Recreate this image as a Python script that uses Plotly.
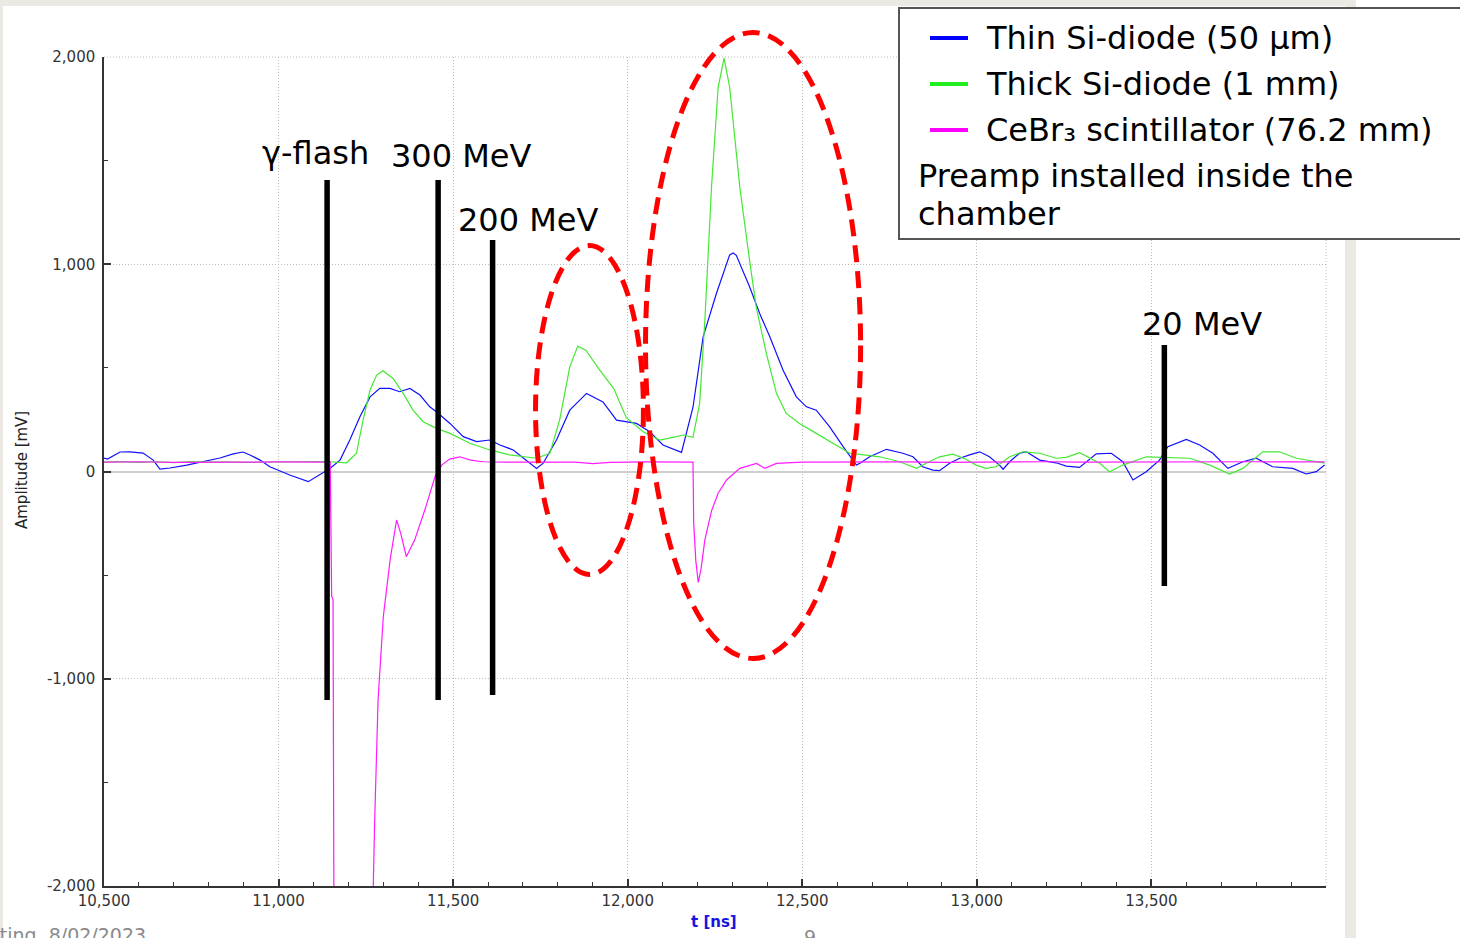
import plotly.graph_objects as go

# ---------------- data ----------------
thin_t = [10500, 10510, 10546, 10574, 10612, 10641, 10660, 10689, 10737, 10775, 10832, 10870, 10898, 10918,
          10947, 10975, 11032, 11085, 11118, 11147, 11176, 11204, 11233, 11262, 11290, 11319, 11347, 11376,
          11405, 11433, 11452, 11491, 11529, 11567, 11605, 11634, 11672, 11710, 11739, 11758, 11796, 11834,
          11882, 11929, 11968, 12025, 12063, 12101, 12154, 12187, 12216, 12254, 12292, 12302, 12311, 12349,
          12378, 12407, 12445, 12483, 12512, 12540, 12578, 12617, 12655, 12665, 12693, 12741, 12788, 12817,
          12845, 12874, 12893, 12922, 12951, 12979, 13008, 13036, 13065, 13075, 13094, 13122, 13142, 13180,
          13227, 13256, 13294, 13342, 13385, 13418, 13447, 13485, 13523, 13547, 13600, 13638, 13676, 13719,
          13762, 13800, 13847, 13905, 13943, 13972, 13996]
thin_v = [65, 60, 94, 95, 89, 55, 12, 17, 31, 45, 65, 85, 94, 80,
          55, 23, -17, -49, -17, 15, 55, 152, 264, 360, 401, 401, 385, 401,
          369, 312, 288, 232, 168, 144, 152, 128, 104, 55, 15, 40, 152, 296,
          377, 336, 248, 232, 192, 128, 92, 310, 650, 859, 1045, 1054, 1043, 891,
          762, 650, 489, 360, 312, 296, 216, 120, 31, 40, 71, 107, 88, 71,
          23, 7, 4, 40, 64, 80, 95, 71, 31, 11, 47, 88, 95, 55,
          42, 26, 20, 85, 88, 47, -41, -1, 55, 120, 155, 128, 88, 15,
          47, 64, 23, 15, -12, -1, 31]

thick_t = [10500, 10550, 10600, 10650, 10700, 10750, 10800, 10850, 10900, 10950, 11000, 11050, 11100, 11147,
           11195, 11223, 11242, 11262, 11281, 11299, 11328, 11357, 11385, 11414, 11452, 11491, 11548, 11605,
           11662, 11739, 11777, 11805, 11834, 11857, 11880, 11920, 11960, 11996, 12044, 12092, 12130, 12159,
           12187, 12206, 12221, 12240, 12259, 12276, 12292, 12321, 12349, 12368, 12397, 12426, 12454, 12492,
           12540, 12588, 12636, 12665, 12722, 12779, 12827, 12855, 12893, 12931, 12969, 12998, 13026, 13055,
           13094, 13132, 13180, 13227, 13256, 13294, 13323, 13352, 13380, 13418, 13485, 13528, 13610, 13667,
           13724, 13762, 13819, 13867, 13915, 13996]
thick_v = [45, 48, 44, 47, 43, 48, 45, 47, 44, 46, 45, 47, 48, 47,
           42, 88, 248, 393, 465, 486, 449, 377, 296, 240, 208, 184, 136, 104,
           80, 64, 88, 248, 505, 605, 585, 489, 400, 260, 192, 152, 165, 176,
           165, 329, 730, 1372, 1854, 1995, 1854, 1372, 1019, 794, 570, 377, 280, 232,
           184, 136, 88, 83, 71, 47, 15, 40, 71, 84, 59, 31, 15, 23,
           71, 95, 88, 64, 68, 91, 64, 40, -1, 31, 71, 68, 64, 31,
           -12, 15, 95, 95, 64, 40]

cebr_t = [10500, 10600, 10700, 10800, 10900, 11000, 11100, 11148, 11152, 11156, 11160, 11265, 11270, 11275,
          11285, 11300, 11320, 11338, 11350, 11366, 11390, 11420, 11448, 11467, 11490, 11519, 11550, 11585,
          11650, 11750, 11850, 11900, 11950, 12050, 12150, 12187, 12189, 12195, 12202, 12210, 12221, 12240,
          12259, 12283, 12321, 12369, 12393, 12426, 12500, 12600, 12700, 12800, 12900, 13000, 13100, 13200,
          13300, 13400, 13500, 13600, 13700, 13800, 13900, 13996]
cebr_v = [45, 47, 44, 46, 45, 46, 45, 45, -600, -620, -3000, -3000, -2100, -1700,
          -1100, -700, -420, -234, -300, -411, -330, -180, -25, 31, 60, 71, 55, 47,
          45, 46, 45, 38, 44, 46, 45, 45, -250, -430, -535, -470, -330, -190,
          -105, -41, 15, 39, 15, 39, 45, 46, 45, 46, 44, 46, 45, 47,
          45, 46, 47, 46, 48, 47, 46, 46]

series_names = ["Thin Si-diode (50 µm)", "Thick Si-diode (1 mm)", "CeBr₃ scintillator (76.2 mm)"]
legend_note = ["Preamp installed inside the", "chamber"]

marker_labels = ["γ-flash", "300 MeV", "200 MeV", "20 MeV"]
marker_t = [11139, 11457, 11613, 13537]
marker_top = [1406, 1406, 1117, 610]
marker_bottom = [-1102, -1102, -1078, -552]
label_t = [11107, 11525, 11717, 13645]
label_v = [1537, 1522, 1213, 712]

# ellipses (x0, x1 in ns; y0, y1 in mV)
ellipse_t0 = [11736, 12051]
ellipse_t1 = [12045, 12667]
ellipse_v0 = [-497, -902]
ellipse_v1 = [1090, 2118]

x_ticks = [10500, 11000, 11500, 12000, 12500, 13000, 13500, 14000]
x_ticktext = ["10,500", "11,000", "11,500", "12,000", "12,500", "13,000", "13,500", ""]
y_ticks = [-2000, -1000, 0, 1000, 2000]
y_ticktext = ["-2,000", "-1,000", "0", "1,000", "2,000"]
x_minor = list(range(10500, 14001, 100))
y_minor = list(range(-2000, 2001, 500))

# ---------------- styling ----------------
FONT = "DejaVu Sans"
C_BLUE = "#1010ff"
C_GREEN = "#44e833"
C_MAG = "#ff1aff"
W, H = 1460, 938
ML, MR, MT, MB = 104, 134, 57, 52
PW, PH = W - ML - MR, H - MT - MB
XMIN, XMAX = 10500, 14000
YMIN, YMAX = -2000, 2000
GRID = "#bdbdbd"
GDASH = "1px,2px"


def pxx(px):
    return (px - ML) / PW


def pxy(py):
    return (H - MB - py) / PH


def yp(v):
    return (v - YMIN) / (YMAX - YMIN)


fig = go.Figure()
for t, v, c, n in [(thin_t, thin_v, C_BLUE, series_names[0]),
                   (thick_t, thick_v, C_GREEN, series_names[1]),
                   (cebr_t, cebr_v, C_MAG, series_names[2])]:
    fig.add_trace(go.Scatter(x=t, y=v, mode="lines", name=n,
                             line=dict(color=c, width=1.2), showlegend=False))

shapes = []
# slide frame (grey strips)
frame = "#ece9e4"
shapes.append(dict(type="rect", xref="paper", yref="paper", x0=pxx(0), x1=pxx(1356), y0=pxy(6), y1=pxy(0),
                   fillcolor=frame, line=dict(width=0), layer="below"))
shapes.append(dict(type="rect", xref="paper", yref="paper", x0=pxx(0), x1=pxx(3), y0=pxy(H), y1=pxy(0),
                   fillcolor=frame, line=dict(width=0), layer="below"))
shapes.append(dict(type="rect", xref="paper", yref="paper", x0=pxx(1345), x1=pxx(1356), y0=pxy(H), y1=pxy(0),
                   fillcolor=frame, line=dict(width=0), layer="below"))
# edge grid lines (top at 2000, right at 14000)
shapes.append(dict(type="line", xref="paper", yref="paper", x0=0, x1=1, y0=1, y1=1,
                   line=dict(color=GRID, width=1, dash=GDASH), layer="below"))
shapes.append(dict(type="line", xref="paper", yref="paper", x0=1, x1=1, y0=0, y1=1,
                   line=dict(color=GRID, width=1, dash=GDASH), layer="below"))

# vertical marker lines
for t, a, b in zip(marker_t, marker_top, marker_bottom):
    shapes.append(dict(type="line", xref="x", yref="y", x0=t, x1=t, y0=b, y1=a,
                       line=dict(color="black", width=5.5)))
# red dashed ellipses
for a0, a1, b0, b1 in zip(ellipse_t0, ellipse_t1, ellipse_v0, ellipse_v1):
    shapes.append(dict(type="circle", xref="x", yref="paper", x0=a0, x1=a1, y0=yp(b0), y1=yp(b1),
                       line=dict(color="#ff0000", width=5, dash="17px,9px")))

# custom legend box
shapes.append(dict(type="rect", xref="paper", yref="paper", x0=pxx(899), x1=pxx(1480), y0=pxy(239), y1=pxy(8),
                   fillcolor="white", line=dict(color="#555555", width=2), layer="above"))
leg_colors = ["#0000ff", "#22ee22", "#ff00ff"]
leg_y = [38, 84, 130]
for c, yy in zip(leg_colors, leg_y):
    shapes.append(dict(type="line", xref="paper", yref="paper", x0=pxx(930), x1=pxx(968), y0=pxy(yy), y1=pxy(yy),
                       line=dict(color=c, width=4), layer="above"))

annotations = []
for n, yy in zip(series_names, leg_y):
    annotations.append(dict(text=n, xref="paper", yref="paper", x=pxx(984), y=pxy(yy), xanchor="left",
                            yanchor="middle", showarrow=False, font=dict(family=FONT, size=32, color="black")))
for n, yy in zip(legend_note, [176, 214]):
    annotations.append(dict(text=n, xref="paper", yref="paper", x=pxx(916), y=pxy(yy), xanchor="left",
                            yanchor="middle", showarrow=False, font=dict(family=FONT, size=32, color="black")))
for lab, t, v in zip(marker_labels, label_t, label_v):
    annotations.append(dict(text=lab, xref="x", yref="y", x=t, y=v, xanchor="center", yanchor="middle",
                            showarrow=False, font=dict(family=FONT, size=32, color="black")))

# axis titles
annotations.append(dict(text="<b>t [ns]</b>", xref="paper", yref="paper", x=pxx(714), y=pxy(922),
                        xanchor="center", yanchor="middle", showarrow=False,
                        font=dict(family=FONT, size=15, color="#1515e0")))
annotations.append(dict(text="Amplitude [mV]", xref="paper", yref="paper", x=pxx(22), y=pxy(470),
                        xanchor="center", yanchor="middle", textangle=-90, showarrow=False,
                        font=dict(family=FONT, size=15, color="#222222")))
# slide footer (partially cut off at the page bottom, as in the original slide)
annotations.append(dict(text="Meeting  8/02/2023", xref="paper", yref="paper", x=pxx(148), y=pxy(935),
                        xanchor="right", yanchor="middle", showarrow=False,
                        font=dict(family=FONT, size=19, color="#8a8a8a")))
annotations.append(dict(text="9", xref="paper", yref="paper", x=pxx(810), y=pxy(937),
                        xanchor="center", yanchor="middle", showarrow=False,
                        font=dict(family=FONT, size=19, color="#8a8a8a")))

axis_common = dict(showline=True, linecolor="#333333", linewidth=1.5, ticks="inside", ticklen=7,
                   tickwidth=1.5, tickcolor="#333333", showgrid=True, gridcolor=GRID, griddash=GDASH,
                   gridwidth=1, tickfont=dict(family=FONT, size=15, color="#333333"), mirror=False)

fig.update_layout(
    width=W, height=H,
    margin=dict(l=ML, r=MR, t=MT, b=MB, pad=0),
    paper_bgcolor="white", plot_bgcolor="white",
    showlegend=False,
    font=dict(family=FONT),
    xaxis=dict(range=[XMIN, XMAX], tickmode="array", tickvals=x_ticks, ticktext=x_ticktext,
               zeroline=False, ticklabelstandoff=0,
               minor=dict(tickmode="array", tickvals=x_minor, ticks="inside", ticklen=4,
                          tickcolor="#333333", tickwidth=1.2, showgrid=False),
               **axis_common),
    yaxis=dict(range=[YMIN, YMAX], tickmode="array", tickvals=y_ticks, ticktext=y_ticktext,
               zeroline=True, zerolinecolor="#cfcfcf", zerolinewidth=2, ticklabelstandoff=4,
               minor=dict(tickmode="array", tickvals=y_minor, ticks="inside", ticklen=4,
                          tickcolor="#333333", tickwidth=1.2, showgrid=False),
               **axis_common),
    shapes=shapes,
    annotations=annotations,
)

fig.write_html("out.html")
